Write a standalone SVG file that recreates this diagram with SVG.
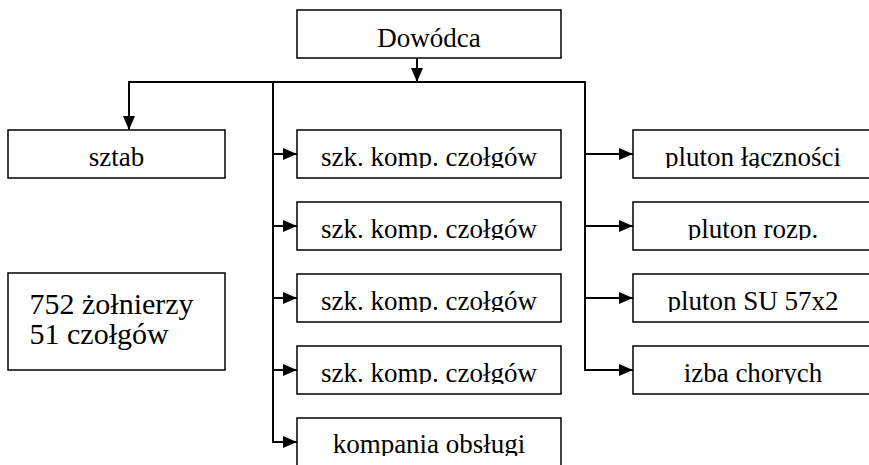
<svg xmlns="http://www.w3.org/2000/svg" width="869" height="465" viewBox="0 0 869 465">
  <style>
    .box { fill: #ffffff; stroke: #000000; stroke-width: 1.5; }
    .lbl { font-size: 27px; fill: #000000; text-anchor: middle; }
    .big { font-size: 30px; fill: #000000; }
    .conn { fill: none; stroke: #000000; stroke-width: 2; }
  </style>
  <defs>
    <marker id="arr" viewBox="0 0 14 12" refX="14" refY="6" markerWidth="14" markerHeight="12" markerUnits="userSpaceOnUse" orient="auto">
      <path d="M0,0 L14,6 L0,12 Z" fill="#000000"/>
    </marker>
    <clipPath id="r1" clipPathUnits="userSpaceOnUse"><rect x="0" y="130" width="869" height="38"/></clipPath>
    <clipPath id="r2" clipPathUnits="userSpaceOnUse"><rect x="0" y="202" width="869" height="38"/></clipPath>
    <clipPath id="r3" clipPathUnits="userSpaceOnUse"><rect x="0" y="274" width="869" height="38"/></clipPath>
    <clipPath id="r4" clipPathUnits="userSpaceOnUse"><rect x="0" y="346" width="869" height="38"/></clipPath>
    <clipPath id="r5" clipPathUnits="userSpaceOnUse"><rect x="0" y="418" width="869" height="38"/></clipPath>
  </defs>
  <rect width="869" height="465" fill="#ffffff"/>

  <g id="connectors">
    <line class="conn" x1="417" y1="58" x2="417" y2="82" marker-end="url(#arr)"/>
    <line class="conn" x1="128" y1="82" x2="586" y2="82"/>
    <line class="conn" x1="129" y1="82" x2="129" y2="130" marker-end="url(#arr)"/>
    <line class="conn" x1="273" y1="82" x2="273" y2="442"/>
    <line class="conn" x1="273" y1="154" x2="297" y2="154" marker-end="url(#arr)"/>
    <line class="conn" x1="273" y1="226" x2="297" y2="226" marker-end="url(#arr)"/>
    <line class="conn" x1="273" y1="298" x2="297" y2="298" marker-end="url(#arr)"/>
    <line class="conn" x1="273" y1="370" x2="297" y2="370" marker-end="url(#arr)"/>
    <line class="conn" x1="272" y1="442" x2="297" y2="442" marker-end="url(#arr)"/>
    <line class="conn" x1="585" y1="82" x2="585" y2="370"/>
    <line class="conn" x1="585" y1="154" x2="633" y2="154" marker-end="url(#arr)"/>
    <line class="conn" x1="585" y1="226" x2="633" y2="226" marker-end="url(#arr)"/>
    <line class="conn" x1="585" y1="298" x2="633" y2="298" marker-end="url(#arr)"/>
    <line class="conn" x1="584" y1="370" x2="633" y2="370" marker-end="url(#arr)"/>
  </g>

  <g font-family="'Liberation Serif', 'DejaVu Serif', serif">
  <g id="dowodca">
    <rect class="box" x="297" y="10" width="264" height="48"/>
    <text class="lbl" x="429" y="46.5">Dowódca</text>
  </g>
  <g id="sztab">
    <rect class="box" x="8" y="130" width="217" height="48"/>
    <text class="lbl" x="116.5" y="166" clip-path="url(#r1)">sztab</text>
  </g>
  <g id="stats">
    <rect class="box" x="8" y="273" width="217" height="97"/>
    <text class="big" x="29.5" y="314">752 żołnierzy</text>
    <text class="big" x="29.5" y="344">51 czołgów</text>
  </g>

  <g id="szk1">
    <rect class="box" x="297" y="130" width="264" height="48"/>
    <text class="lbl" x="429" y="165.5" clip-path="url(#r1)">szk. komp. czołgów</text>
  </g>
  <g id="szk2">
    <rect class="box" x="297" y="202" width="264" height="48"/>
    <text class="lbl" x="429" y="237.5" clip-path="url(#r2)">szk. komp. czołgów</text>
  </g>
  <g id="szk3">
    <rect class="box" x="297" y="274" width="264" height="48"/>
    <text class="lbl" x="429" y="309.5" clip-path="url(#r3)">szk. komp. czołgów</text>
  </g>
  <g id="szk4">
    <rect class="box" x="297" y="346" width="264" height="48"/>
    <text class="lbl" x="429" y="381.5" clip-path="url(#r4)">szk. komp. czołgów</text>
  </g>
  <g id="kompania">
    <rect class="box" x="297" y="418" width="264" height="52"/>
    <text class="lbl" x="429" y="453" clip-path="url(#r5)">kompania obsługi</text>
  </g>

  <g id="pluton-lacznosci">
    <rect class="box" x="633" y="130" width="242" height="48"/>
    <text class="lbl" x="753" y="165.5" clip-path="url(#r1)">pluton łączności</text>
  </g>
  <g id="pluton-rozp">
    <rect class="box" x="633" y="202" width="242" height="48"/>
    <text class="lbl" x="753" y="237.5" clip-path="url(#r2)">pluton rozp.</text>
  </g>
  <g id="pluton-su">
    <rect class="box" x="633" y="274" width="242" height="48"/>
    <text class="lbl" x="753" y="309.5" clip-path="url(#r3)">pluton SU 57x2</text>
  </g>
  <g id="izba">
    <rect class="box" x="633" y="346" width="242" height="48"/>
    <text class="lbl" x="753" y="381.5" clip-path="url(#r4)">izba chorych</text>
  </g>
  </g>
</svg>
